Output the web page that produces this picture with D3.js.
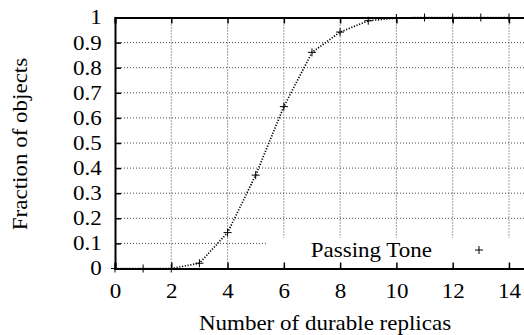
<!DOCTYPE html>
<html>
  <head>
    <script src="https://d3js.org/d3.v7.min.js"></script>
    <style>
      body { margin: 0; background: white; }
    </style>
  </head>
  <body>
    <script>
      const replicas = [0, 1, 2, 3, 4, 5, 6, 7, 8, 9, 10, 11, 12, 13, 14];
      const fraction = [0, 0, 0, 0.021, 0.143, 0.372, 0.645, 0.861, 0.942, 0.987, 0.998, 1, 1, 1, 1];
      const xTicks = [0, 2, 4, 6, 8, 10, 12, 14];
      const yTicks = [0, 0.1, 0.2, 0.3, 0.4, 0.5, 0.6, 0.7, 0.8, 0.9, 1];
      const seriesName = 'Passing Tone';

      const w = 524, h = 335;
      const fontFam = "'Liberation Serif'";
      const fs = 20;
      const sx = 1.15; // text in the original is a bit wide
      const svg = d3.select('body').append('svg').attr('width', w).attr('height', h);

      const x = d3.scaleLinear().domain([0, 15]).range([115, 115 + 15 * 28.14]);
      const y = d3.scaleLinear().domain([0, 1]).range([268.5, 17.5]);

      // grid
      svg.append('g').selectAll('line').data(yTicks.slice(1, -1)).enter().append('line')
        .attr('x1', x(0)).attr('x2', x(15))
        .attr('y1', d => y(d)).attr('y2', d => y(d))
        .attr('stroke', '#444').attr('stroke-width', 1).attr('stroke-dasharray', '1,2');
      svg.append('g').selectAll('line').data(xTicks.slice(1)).enter().append('line')
        .attr('x1', d => x(d)).attr('x2', d => x(d))
        .attr('y1', y(0)).attr('y2', y(1))
        .attr('stroke', '#444').attr('stroke-width', 1).attr('stroke-dasharray', '1,2');

      // legend box covers grid
      svg.append('rect').attr('x', 268).attr('y', 238).attr('width', 260).attr('height', 29).attr('fill', 'white');

      // axes
      const xAxis = d3.axisBottom(x).tickValues(xTicks).tickSize(-6).tickPadding(15);
      svg.append('g').attr('transform', `translate(0,${y(0)})`).call(xAxis)
        .attr('font-family', fontFam).attr('font-size', fs)
        .call(g => g.selectAll('text').attr('transform', `scale(${sx},1)`))
        .call(g => g.select('.domain').attr('stroke-width', 2));
      const xTop = d3.axisTop(x).tickValues(xTicks).tickSize(-6).tickFormat('');
      svg.append('g').attr('transform', `translate(0,${y(1)})`).call(xTop)
        .call(g => g.select('.domain').attr('stroke-width', 2));
      const yAxis = d3.axisLeft(y).tickValues(yTicks).tickSize(-6)
        .tickFormat(d => d === 0 || d === 1 ? d3.format('d')(d) : d3.format('.1f')(d));
      svg.append('g').attr('transform', `translate(${x(0)},0)`).call(yAxis)
        .attr('font-family', fontFam).attr('font-size', fs)
        .call(g => g.selectAll('text').attr('x', -13.3 / sx).attr('transform', `scale(${sx},1)`))
        .call(g => g.select('.domain').attr('stroke-width', 2));
      svg.selectAll('.tick line').attr('stroke-width', 1.5);

      // curve
      const pts = replicas.map((r, i) => [r, fraction[i]]);
      svg.append('path').datum(pts)
        .attr('d', d3.line().x(d => x(d[0])).y(d => y(d[1])))
        .attr('fill', 'none').attr('stroke', 'black').attr('stroke-width', 1.7)
        .attr('stroke-dasharray', '1.2,1.6');
      svg.append('g').selectAll('path').data(pts).enter().append('path')
        .attr('d', d => `M${x(d[0]) - 4},${y(d[1])}h8M${x(d[0])},${y(d[1]) - 4}v8`)
        .attr('stroke', 'black').attr('stroke-width', 1);

      // legend
      svg.append('text').attr('transform', `translate(432,257) scale(${sx},1)`).attr('text-anchor', 'end')
        .attr('font-family', fontFam).attr('font-size', fs).text(seriesName);
      svg.append('path').attr('d', 'M475,250h8M479,246v8').attr('stroke', 'black').attr('stroke-width', 1);

      // labels
      svg.append('text').attr('transform', `translate(325,329.5) scale(${sx},1)`).attr('text-anchor', 'middle')
        .attr('font-family', fontFam).attr('font-size', fs).text('Number of durable replicas');
      svg.append('text').attr('transform', `translate(27,144) rotate(-90) scale(${sx},1)`).attr('text-anchor', 'middle')
        .attr('font-family', fontFam).attr('font-size', fs).text('Fraction of objects');
    </script>
  </body>
</html>
